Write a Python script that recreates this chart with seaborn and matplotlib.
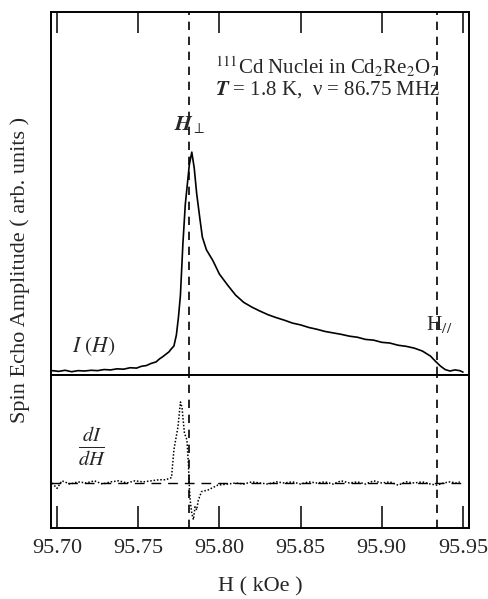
import numpy as np
import pandas as pd
import matplotlib
matplotlib.use("Agg")
import matplotlib.pyplot as plt
import seaborn as sns

# ---- data ----
H_int = [95.697, 95.701, 95.705, 95.709, 95.713, 95.717, 95.721, 95.725, 95.729, 95.733,
         95.737, 95.741, 95.745, 95.749, 95.752, 95.755, 95.758, 95.761, 95.763, 95.765,
         95.767, 95.769, 95.770, 95.772, 95.7735, 95.7748, 95.776, 95.7775, 95.779,
         95.7815, 95.783, 95.7845, 95.786, 95.788, 95.7895, 95.792, 95.796, 95.800,
         95.805, 95.810, 95.815, 95.820, 95.825, 95.830, 95.835, 95.840, 95.845, 95.850,
         95.855, 95.860, 95.865, 95.870, 95.875, 95.880, 95.885, 95.890, 95.895, 95.900,
         95.905, 95.910, 95.915, 95.920, 95.925, 95.930, 95.933, 95.936, 95.939, 95.942,
         95.945, 95.948, 95.950]
I_val = [0.012, 0.010, 0.013, 0.009, 0.012, 0.011, 0.013, 0.012, 0.015, 0.014,
         0.017, 0.016, 0.020, 0.019, 0.024, 0.026, 0.032, 0.036, 0.044, 0.050,
         0.057, 0.064, 0.070, 0.080, 0.110, 0.160, 0.220, 0.360, 0.470,
         0.580, 0.614, 0.570, 0.500, 0.430, 0.380, 0.345, 0.315, 0.278,
         0.248, 0.220, 0.200, 0.187, 0.176, 0.166, 0.158, 0.151, 0.143, 0.138,
         0.131, 0.126, 0.120, 0.116, 0.112, 0.107, 0.104, 0.098, 0.096, 0.090,
         0.088, 0.082, 0.079, 0.074, 0.066, 0.052, 0.038, 0.025, 0.015, 0.011,
         0.014, 0.012, 0.008]

H_der = [95.697, 95.700, 95.703, 95.708, 95.713, 95.718, 95.723, 95.728, 95.733, 95.738,
         95.743, 95.748, 95.753, 95.758, 95.763, 95.767, 95.7705, 95.772, 95.7745,
         95.776, 95.777, 95.7775, 95.7785, 95.780, 95.781, 95.7815, 95.782, 95.783,
         95.784, 95.785, 95.786, 95.787, 95.789, 95.793, 95.799, 95.805, 95.810,
         95.815, 95.820, 95.825, 95.830, 95.835, 95.840, 95.845, 95.850, 95.855,
         95.860, 95.865, 95.870, 95.875, 95.880, 95.885, 95.890, 95.895, 95.900,
         95.905, 95.910, 95.915, 95.920, 95.925, 95.930, 95.934, 95.938, 95.942,
         95.946, 95.948]
D_val = [0.00, -0.05, 0.02, -0.01, 0.01, 0.00, 0.02, -0.01, 0.01, 0.02,
         0.00, 0.02, 0.01, 0.02, 0.03, 0.03, 0.05, 0.31, 0.52,
         0.75, 0.70, 0.61, 0.46, 0.40, 0.15, -0.04, -0.16, -0.28,
         -0.34, -0.22, -0.25, -0.16, -0.08, -0.065, -0.02, -0.01, 0.00,
         -0.01, 0.01, 0.00, -0.01, 0.01, 0.00, 0.01, -0.01, 0.01,
         0.00, 0.01, -0.01, 0.02, 0.00, 0.01, -0.01, 0.02, 0.00,
         0.01, -0.02, 0.01, 0.00, 0.01, -0.01, -0.02, 0.00, 0.01,
         0.00, 0.01]

xticks = [95.70, 95.75, 95.80, 95.85, 95.90, 95.95]
xtick_labels = ["95.70", "95.75", "95.80", "95.85", "95.90", "95.95"]
H_perp = 95.781
H_par = 95.934

df_i = pd.DataFrame({"H": H_int, "I": I_val})
df_d = pd.DataFrame({"H": H_der, "D": D_val})

sns.set_style("ticks")
plt.rcParams["font.family"] = ["Liberation Serif", "DejaVu Serif"]
plt.rcParams["mathtext.fontset"] = "stix"

fig = plt.figure(figsize=(4.88, 5.99), dpi=100)
gs = fig.add_gridspec(2, 1, height_ratios=[363, 153], hspace=0,
                      left=51/488, right=469/488, top=1-12/599, bottom=1-528/599)
ax1 = fig.add_subplot(gs[0])
ax2 = fig.add_subplot(gs[1], sharex=ax1)

xlim = (95.6963, 95.9537)

sns.lineplot(data=df_i, x="H", y="I", ax=ax1, color="black", lw=1.2, sort=False)
sns.lineplot(data=df_d, x="H", y="D", ax=ax2, color="black", lw=1.1,
             linestyle=(0, (1, 1.2)), sort=False)

for ax in (ax1, ax2):
    ax.set_xlim(*xlim)
    for s in ax.spines.values():
        s.set_linewidth(1.4)
        s.set_color("black")
    ax.axvline(H_perp, color="black", lw=1.2, linestyle=(0, (5, 4)))
    ax.axvline(H_par, color="black", lw=1.2, linestyle=(0, (5, 4)))
    ax.set_yticks([])
    ax.set_xlabel("")
    ax.set_ylabel("")

ax1.set_ylim(0, 1)
ax2.set_ylim(-0.417, 1.0)
ax2.axhline(0, color="black", lw=1.0, linestyle=(0, (7, 5)))

ax1.set_xticks(xticks)
ax1.tick_params(axis="x", which="both", top=True, bottom=False, labeltop=False,
                labelbottom=False, direction="in", length=15, width=1.3)
ax2.set_xticks(xticks)
ax2.set_xticklabels(xtick_labels)
ax2.tick_params(axis="x", which="both", top=False, bottom=True, direction="in",
                length=16, width=1.3, labelsize=16, pad=8)

ax1.text(95.797, 0.848, r"$^{111}$Cd Nuclei in Cd$_2$Re$_2$O$_7$", fontsize=15,
         ha="left", va="center")
ax1.text(95.797, 0.785, r"$\mathbfit{T}$ = 1.8 K,  ν = 86.75 MHz", fontsize=15,
         ha="left", va="center")
ax1.text(95.782, 0.689, r"$\mathbfit{H}_{\perp}$", fontsize=15.5, ha="center", va="center")
ax1.text(95.927, 0.138, r"H$_{\mathit{//}}$", fontsize=15.5, ha="left", va="center")
ax1.text(95.709, 0.077, r"$\mathit{I}\ (\mathit{H})$", fontsize=15.5, ha="left", va="center")
ax2.text(95.7217, 0.333, r"$\frac{\mathit{dI}}{\mathit{dH}}$", fontsize=21,
         ha="center", va="center")

fig.text(260/488, 1-587/599, "H ( kOe )", fontsize=16, ha="center", va="center")
fig.text(20/488, 1-270/599, "Spin Echo Amplitude ( arb. units )", fontsize=16,
         ha="center", va="center", rotation=90)

fig.savefig("out.png", dpi=100)
